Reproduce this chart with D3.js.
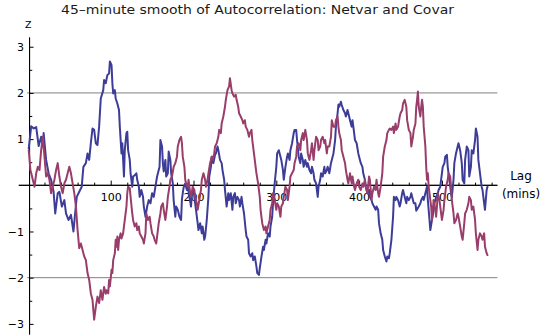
<!DOCTYPE html>
<html><head><meta charset="utf-8">
<script src="https://cdn.jsdelivr.net/npm/d3@7"></script>
<style>
body{margin:0;background:#fff;}
svg{display:block;font-family:"DejaVu Sans",sans-serif;}
</style></head><body>
<svg id="chart" width="540" height="335"></svg>
<script>
// Smoothed autocorrelation (Z) by lag in minutes
const netvarLag = [1,4,7,10,13,16,18,19,22,25,28,31,33,36,38,41,44,46,49,52,55,57,59,62,65,67,70,72,74,76,78,80,82,84,86,88,91,
92,94,96,98,99,101,102,103,105,106,108,110,111,112,113,114,116,117,119,120,121,123,124,126,127,129,131,132,134,135,137,139,140,142,144,146,148,150,152,154,156,157,159,160,162,163,164,166,167,169,170,172,173,175,176,178,179,181,183,185,186,188,
190,192,193,195,197,198,200,201,203,205,206,208,210,211,213,214,216,218,219,221,222,224,226,227,229,230,232,234,235,237,238,240,242,243,245,247,248,250,251,253,255,256,258,259,261,263,264,266,267,269,271,272,274,276,277,279,280,282,
284,285,287,288,290,292,293,295,296,298,300,301,303,305,306,308,309,311,313,314,316,317,319,321,322,324,325,327,329,330,332,333,335,337,338,340,342,343,345,346,348,350,351,353,354,356,358,359,361,362,364,366,367,369,371,372,374,375,
376,378,379,381,383,384,386,387,389,391,392,394,395,397,399,400,402,404,405,407,408,410,412,413,415,416,418,420,421,423,424,426,428,429,431,433,434,436,437,439,441,442,444,445,447,449,450,452,453,455,457,458,460,462,463,465,466,468,469,
472,474,475,477,478,480,482,483,485,486,488,490,491,493,495,496,498,499,501,503,504,506,507,509,511,512,514,515,517,519,520,522,524,525,527,528,530,532,533,535,536,538,540,541,543,544,546,548,549,551,552,554,555];
const netvarZ = [0.80,1.28,1.23,1.26,0.85,1.05,0.84,1.13,0.55,0.26,0.12,-0.14,-0.61,-0.17,-0.14,-0.46,-0.32,-0.61,-0.75,-0.64,-1.00,-0.61,-0.25,-0.14,-0.03,0.40,0.48,0.69,0.55,0.91,1.23,1.20,0.91,0.87,1.27,1.88,2.06,
2.28,2.21,2.39,2.42,2.68,2.60,2.21,1.99,2.06,1.88,1.77,1.63,1.27,0.98,0.69,0.91,0.19,0.76,1.13,1.16,0.76,0.55,0.26,-0.03,0.19,0.22,0.26,0.12,-0.03,-0.25,-0.10,-0.25,-0.46,-0.68,-0.46,-0.32,-0.39,-0.17,-0.25,-0.03,0.19,0.26,0.40,0.98,0.84,0.48,0.30,0.55,0.19,0.26,0.73,0.55,0.26,0.04,-0.32,-0.68,-0.46,-0.53,-0.68,-0.75,-0.30,-0.05,
0.04,-0.10,-0.03,-0.25,-0.46,-0.17,-0.10,-0.25,-0.53,-0.82,-0.97,-0.82,-1.04,-0.89,-1.18,-1.11,-0.75,-0.25,0.19,0.40,0.62,0.48,0.66,0.69,0.84,0.76,0.55,0.48,0.33,0.12,-0.10,-0.46,-0.17,-0.32,-0.17,-0.53,-0.25,-0.17,-0.39,-0.25,-0.32,-0.46,-0.25,-0.39,-0.61,-0.97,-1.11,-1.18,-1.47,-1.54,-1.47,-1.62,-1.54,-1.76,-1.90,-1.94,-1.80,-1.55,
-1.33,-1.40,-1.18,-1.26,-1.04,-1.11,-0.89,-0.68,-0.39,0.04,0.40,0.69,0.76,0.62,0.55,0.33,0.12,0.40,0.62,0.69,0.55,0.76,0.91,1.13,1.20,1.20,0.98,0.62,0.48,0.69,0.55,0.40,0.55,0.40,0.48,0.33,0.26,0.40,0.26,0.12,0.04,-0.25,-0.03,0.12,0.26,0.19,0.40,0.26,0.33,0.40,0.26,0.48,0.55,0.69,0.98,1.27,1.56,1.75,
1.70,1.81,1.74,1.63,1.56,1.49,1.63,1.56,1.41,1.27,1.41,1.13,0.98,0.91,0.69,0.62,0.48,0.40,0.26,0.12,-0.03,-0.17,-0.10,-0.25,-0.32,-0.39,-0.46,-0.53,-0.46,-0.53,-0.82,-1.04,-1.18,-1.40,-1.54,-1.65,-1.54,-1.58,-1.47,-1.18,-0.68,-0.25,-0.32,-0.25,-0.32,-0.46,-0.39,-0.17,-0.10,-0.25,-0.39,-0.25,-0.32,-0.25,-0.17,-0.32,-0.39,-0.39,-0.55,
-0.46,-0.39,-0.32,-0.25,-0.32,-0.17,-0.03,-0.32,-0.75,-0.97,-0.75,-0.53,-0.39,-0.25,-0.17,-0.10,-0.03,0.12,0.40,0.48,0.62,0.66,0.40,0.12,-0.17,-0.25,0.12,0.48,0.69,0.84,0.91,0.76,0.48,0.12,0.04,0.55,0.84,0.76,0.19,0.40,0.76,0.69,0.98,1.23,1.05,0.55,0.26,-0.03,-0.10,-0.39,-0.53,-0.10,-0.03];

const covarLag = [1,3,5,8,10,12,14,16,18,20,22,24,26,28,30,32,34,36,38,40,42,44,46,48,50,52,54,56,58,60,62,64,66,68,70,72,74,76,78,80,82,84,86,88,90,92,94,
95,97,98,99,101,102,103,105,106,107,108,109,110,112,113,115,116,117,119,120,121,123,124,126,127,129,131,132,134,135,137,139,140,142,143,145,147,148,150,152,153,155,156,158,160,161,163,164,166,168,169,171,172,174,176,178,180,181,183,185,186,
187,189,190,191,193,194,196,197,199,201,202,204,205,207,209,210,212,214,215,217,218,220,222,223,225,226,228,230,231,233,234,236,238,239,241,243,244,246,247,249,251,252,254,255,257,259,260,262,263,265,267,268,270,271,273,275,276,278,280,281,283,
285,287,288,290,292,293,295,296,298,300,301,303,305,306,308,309,311,313,314,316,317,319,321,322,324,325,327,329,330,332,333,335,337,338,340,342,343,345,346,348,350,351,353,354,356,358,359,361,362,364,366,367,369,371,372,374,375,
376,378,379,381,383,384,386,387,389,391,392,394,395,397,399,400,402,404,405,407,408,410,412,413,415,416,418,420,421,423,424,426,428,429,431,433,434,436,437,439,441,442,444,445,447,449,450,452,453,455,457,458,460,462,463,465,466,468,
469,470,471,472,474,475,476,477,478,480,481,482,483,484,486,487,488,489,490,492,493,494,495,497,499,500,502,503,505,507,508,510,511,512,514,515,517,519,520,522,524,525,527,528,530,532,533,535,536,538,540,541,543,544,546,548,549,551,552,554,555];
const covarZ = [0.76,0.33,0.19,-0.03,0.26,0.40,0.33,0.76,1.05,0.62,0.19,0.26,0.12,-0.17,-0.03,0.12,0.33,0.48,0.19,-0.03,-0.17,0.04,0.12,0.26,0.40,0.26,0.04,-0.17,-0.46,-0.97,-1.36,-1.26,-1.40,-1.54,-1.62,-1.90,-2.05,-2.34,-2.48,-2.91,-2.63,-2.41,-2.55,-2.27,-2.48,-2.20,-2.35,
-2.27,-2.34,-2.05,-2.19,-1.83,-1.90,-1.62,-1.47,-1.18,-1.33,-1.11,-1.40,-1.18,-1.04,-1.15,-1.04,-0.89,-0.75,-0.46,-0.17,-0.03,-0.06,-0.25,-0.61,-0.75,-0.89,-0.82,-0.97,-0.89,-1.04,-1.11,-1.18,-1.26,-1.04,-0.61,-0.75,-0.68,-0.82,-1.04,-1.11,-1.18,-1.26,-1.11,-0.82,-0.61,-0.46,-0.39,-0.53,-0.75,-0.46,-0.25,-0.03,0.12,0.19,0.40,0.48,0.62,0.84,0.98,1.05,0.91,
0.62,0.40,0.12,0.04,-0.03,0.12,-0.17,-0.25,-0.03,-0.10,-0.25,-0.39,-0.53,-0.32,-0.10,0.12,0.26,0.12,-0.03,0.12,0.26,0.48,0.62,0.55,0.69,0.84,0.91,1.05,1.20,1.13,1.34,1.49,1.70,1.85,2.06,2.14,2.32,2.06,1.99,1.92,1.96,1.85,1.70,1.56,1.49,1.41,1.34,1.41,1.27,1.20,1.05,1.13,1.20,0.98,0.69,0.40,0.26,0.04,-0.25,-0.53,-0.82,
-0.97,-0.89,-1.04,-0.89,-0.75,-0.53,-0.39,-0.17,-0.32,-0.53,-0.39,-0.46,-0.68,-0.46,-0.39,-0.25,-0.03,-0.10,-0.32,-0.03,0.19,0.26,0.33,0.48,0.62,0.84,0.91,0.76,0.98,1.13,0.98,1.20,0.98,0.69,0.55,0.76,0.91,0.55,0.76,1.05,0.98,0.76,0.84,0.98,1.05,0.91,0.98,0.69,0.84,0.84,1.05,1.41,1.27,1.27,1.41,1.49,1.27,
1.13,0.98,0.76,0.62,0.48,0.33,0.12,0.04,0.26,0.04,0.19,-0.03,-0.10,0.04,0.12,-0.03,-0.10,0.04,-0.03,0.12,-0.03,-0.17,0.19,0.12,-0.32,-0.17,-0.03,-0.10,0.12,-0.17,-0.25,-0.03,0.26,0.62,0.84,0.98,1.13,1.20,1.23,1.20,1.27,1.13,1.34,1.20,1.27,1.49,1.56,1.63,1.77,1.85,1.70,1.41,1.20,1.13,0.84,1.05,1.20,1.34,
1.70,1.85,2.03,1.70,1.49,1.70,1.85,1.70,1.27,0.84,0.40,0.12,0.26,-0.03,-0.32,-0.46,-0.75,-0.53,-0.32,-0.53,-0.68,-0.46,-0.17,-0.32,-0.61,-0.75,-0.53,-0.32,-0.03,0.12,0.26,0.19,-0.03,-0.32,-0.61,-0.82,-0.75,-0.61,-0.68,-0.89,-1.11,-1.18,-0.82,-0.61,-0.53,-0.39,-0.25,-0.32,-0.53,-0.46,-0.75,-1.04,-1.40,-1.18,-1.04,-1.11,-1.18,-1.04,-1.33,-1.47,-1.51];

const xMajorTicks = [100, 200, 300, 400, 500];
const xMinorTicks = d3.range(20, 561, 20).filter(v => v % 100 !== 0);
const yMajorTicks = [-3, -2, -1, 1, 2, 3];
const yMinorTicks = [-3, -2.5, -2, -1.5, -1, -0.5, 0.5, 1, 1.5, 2, 2.5, 3].filter(v => !Number.isInteger(v));
const gridLevels = [-2, 2];

const titleText = "45–minute smooth of Autocorrelation: Netvar and Covar";
const colors = { netvar: "#3d3d99", covar: "#993d6b" };

const svg = d3.select("#chart");
const x = d3.scaleLinear().domain([-11, 567]).range([18.8, 497.4]);
const y = d3.scaleLinear().domain([-3.23, 3.2]).range([334.5, 37.5]);
const originLag = 2;

// reference levels at ±2
svg.append("g").selectAll("line").data(gridLevels).join("line")
  .attr("x1", x(-1)).attr("x2", x(567))
  .attr("y1", d => y(d)).attr("y2", d => y(d))
  .attr("stroke", "#808080").attr("stroke-width", 1);

// x axis with ticks pointing up into the plot
const xAxisG = svg.append("g").attr("transform", `translate(0,${y(0)})`);
xAxisG.call(d3.axisBottom(x).tickValues(xMajorTicks).tickSizeInner(-4.7).tickSizeOuter(0).tickPadding(8).tickFormat(d3.format("d")));
xAxisG.append("g").call(d3.axisBottom(x).tickValues(xMinorTicks).tickSizeInner(-2.7).tickSizeOuter(0).tickFormat(""));
xAxisG.selectAll(".domain").attr("d", `M${x(-11)},0H${x(567)}`);

// y axis with ticks pointing right
const yAxisG = svg.append("g").attr("transform", `translate(${x(originLag)},0)`);
yAxisG.call(d3.axisLeft(y).tickValues(yMajorTicks).tickSizeInner(-4).tickSizeOuter(0).tickPadding(5.5)
  .tickFormat(d => d < 0 ? "−" + Math.abs(d) : String(d)));
yAxisG.append("g").call(d3.axisLeft(y).tickValues(yMinorTicks).tickSizeInner(-2.7).tickSizeOuter(0).tickFormat(""));
yAxisG.selectAll(".domain").attr("d", `M0,${y(3.2)}V${y(-3.23)}`);

svg.selectAll(".domain").attr("stroke", "#000").attr("stroke-width", 1);
svg.selectAll(".tick line").attr("stroke", "#000");
svg.selectAll(".tick text").attr("font-family", "DejaVu Sans, sans-serif").attr("font-size", 11).attr("fill", "#000");

// series
const line = d3.line().x(d => x(d[0])).y(d => y(d[1])).curve(d3.curveLinear);
const series = [
  { key: "netvar", pts: d3.zip(netvarLag, netvarZ) },
  { key: "covar", pts: d3.zip(covarLag, covarZ) }
];
svg.append("g").selectAll("path").data(series).join("path")
  .attr("d", d => line(d.pts))
  .attr("fill", "none")
  .attr("stroke", d => colors[d.key])
  .attr("stroke-width", 2)
  .attr("stroke-linejoin", "round")
  .attr("stroke-linecap", "round");

// labels
svg.append("text").attr("x", 257.5).attr("y", 13.5).attr("text-anchor", "middle")
  .attr("font-size", 12).attr("textLength", 393).attr("lengthAdjust", "spacingAndGlyphs")
  .attr("fill", "#1a1a1a").text(titleText);
svg.append("text").attr("x", 28.3).attr("y", 28.3).attr("text-anchor", "middle")
  .attr("font-size", 9.5).attr("fill", "#000").text("Z");
svg.append("text").attr("x", 521).attr("y", 179.5).attr("text-anchor", "middle")
  .attr("font-size", 12).attr("fill", "#000").text("Lag");
svg.append("text").attr("x", 521).attr("y", 197.5).attr("text-anchor", "middle")
  .attr("font-size", 12).attr("fill", "#000").text("(mins)");
</script>
</body></html>
